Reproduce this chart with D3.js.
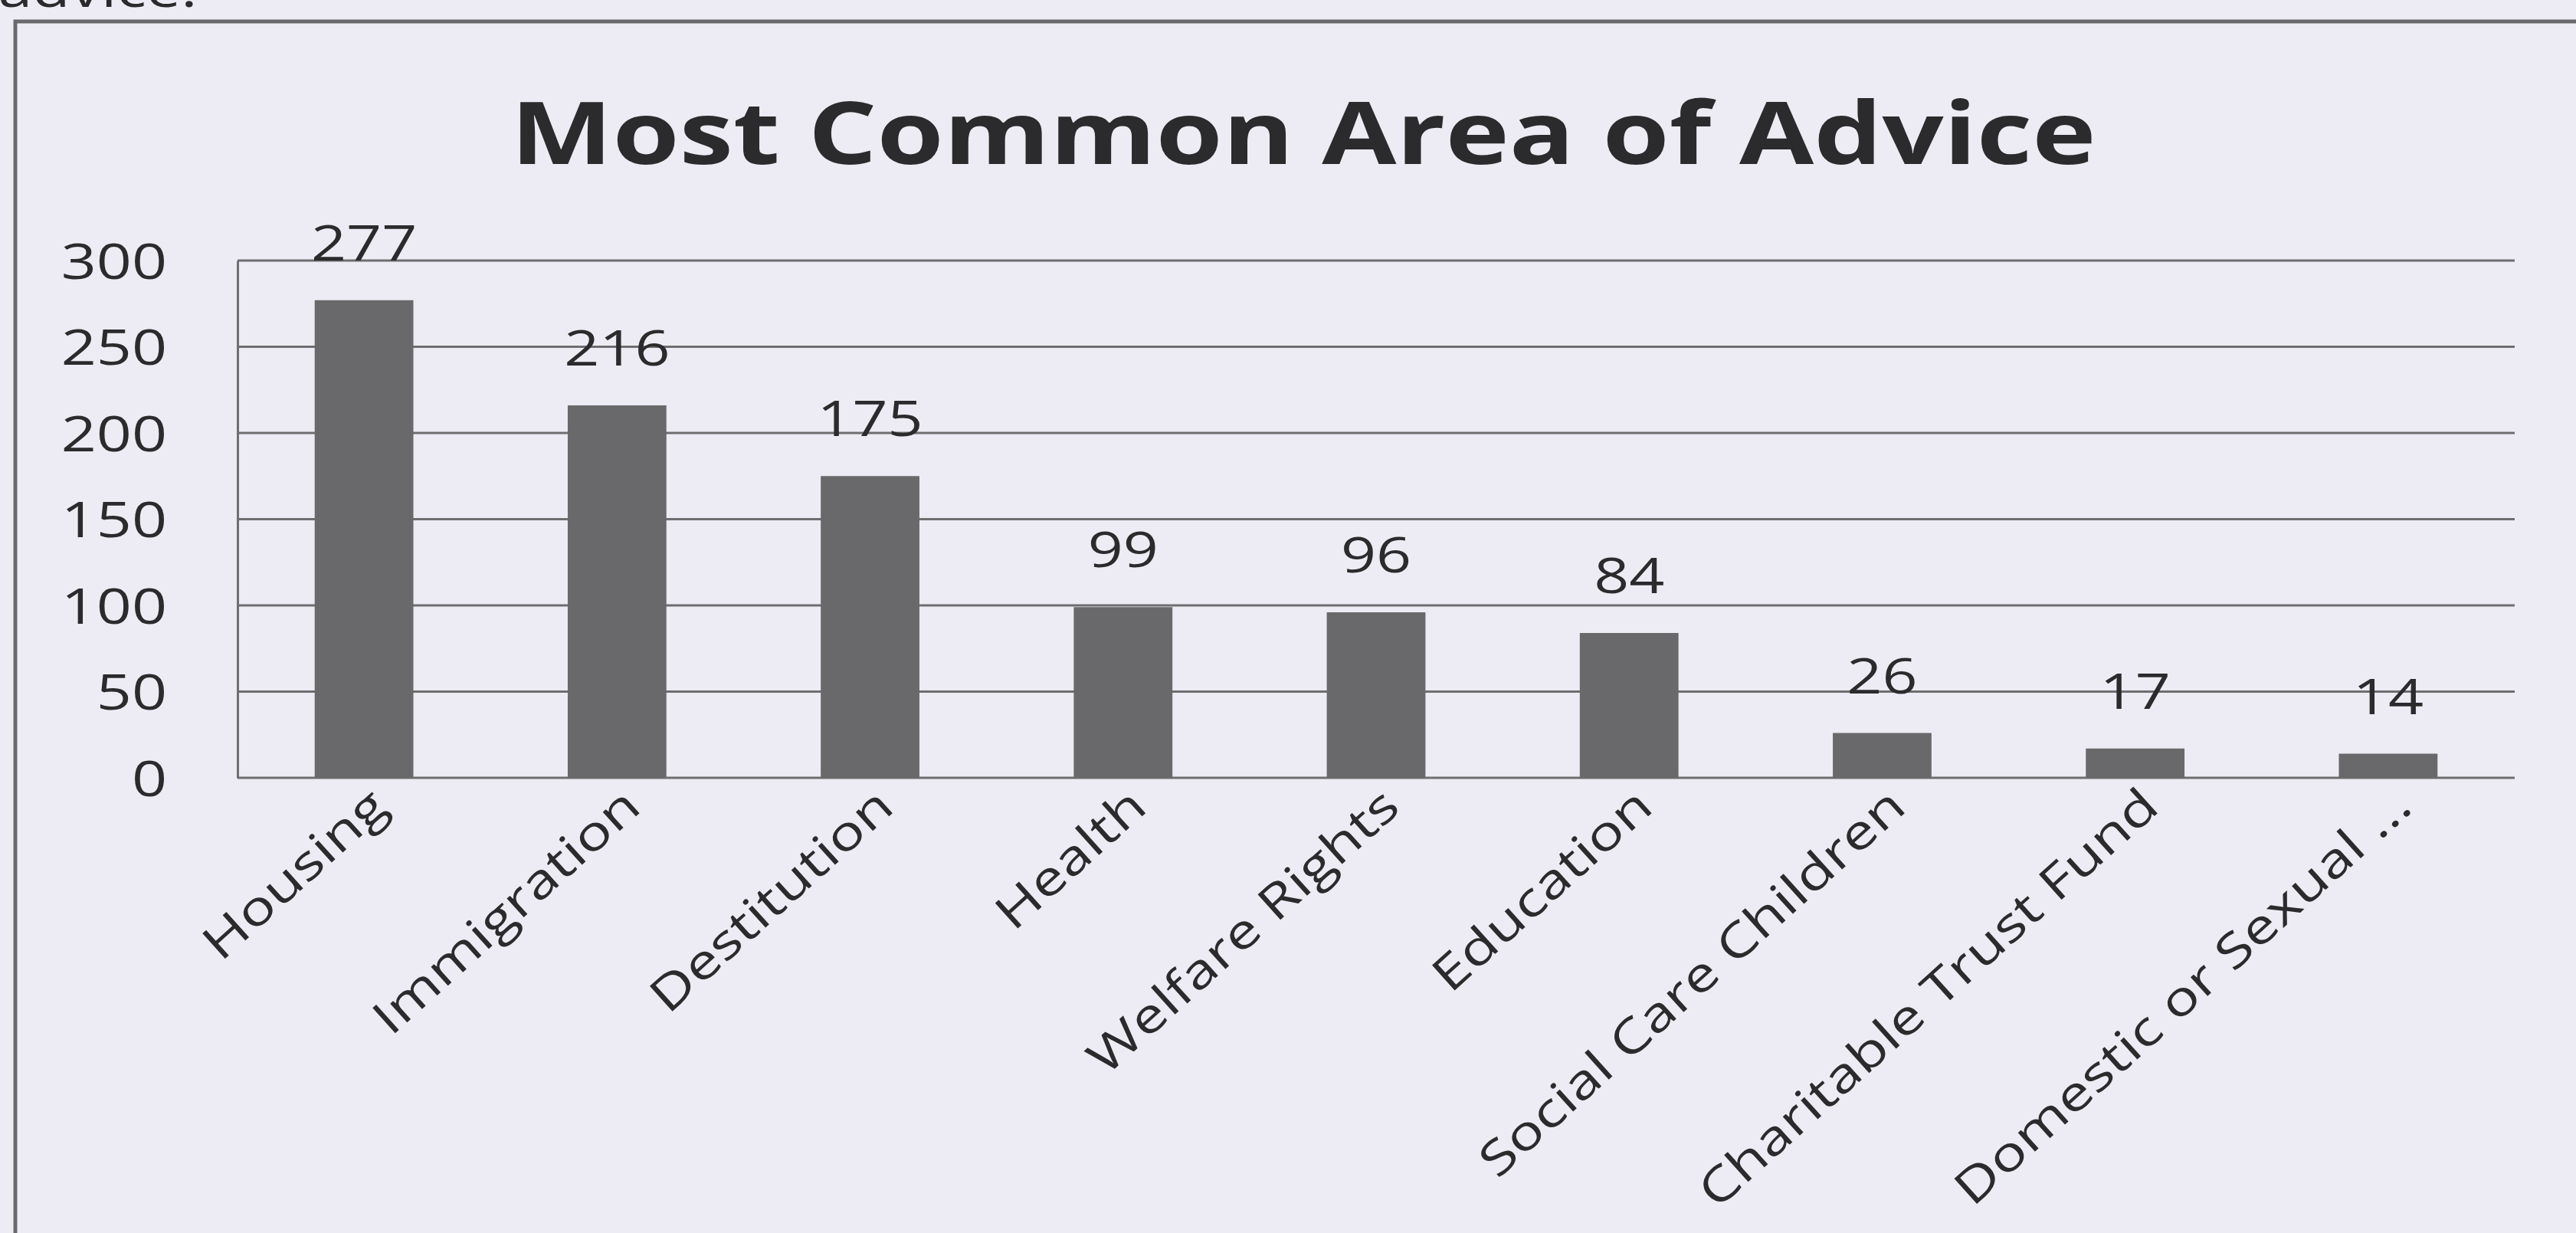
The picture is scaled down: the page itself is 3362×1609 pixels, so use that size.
<!DOCTYPE html>
<html>
<head>
<meta charset="utf-8">
<script src="https://cdn.jsdelivr.net/npm/d3@7"></script>
<style>
  html, body { margin: 0; padding: 0; background: #edecf4; }
  svg { display: block; }
  text { font-family: "Open Sans", "Noto Sans", sans-serif; fill: #2b2b2d; }
</style>
</head>
<body>
<svg id="chart" width="3362" height="1609"></svg>
<script>
// Chart data
const categories = [
  "Housing", "Immigration", "Destitution", "Health", "Welfare Rights",
  "Education", "Social Care Children", "Charitable Trust Fund", "Domestic or Sexual ..."
];
const values = [277, 216, 175, 99, 96, 84, 26, 17, 14];
const yTicks = [0, 50, 100, 150, 200, 250, 300];
const chartTitle = "Most Common Area of Advice";

const W = 3362, H = 1609;
const plot = { left: 310, right: 3282, top: 340, bottom: 1015 };
const textStretch = 1.26;   // wide numerals used for ticks and value labels
const labelStretch = 1.25;  // widening of the slanted category names
const labelAngle = -42;

const svg = d3.select("#chart");

// paper background
svg.append("rect").attr("width", W).attr("height", H).attr("fill", "#edecf4");

// tail of the sentence running above the chart frame
svg.append("text")
  .attr("x", -2).attr("y", 9)
  .attr("font-size", 64)
  .attr("transform", `scale(${textStretch},1)`)
  .text("advice.");

// chart frame
svg.append("rect")
  .attr("x", 20).attr("y", 28)
  .attr("width", 3400).attr("height", 1700)
  .attr("fill", "none")
  .attr("stroke", "#6a6a6c")
  .attr("stroke-width", 5);

const x = d3.scaleBand()
  .domain(categories)
  .range([plot.left, plot.right])
  .paddingInner(0.61)
  .paddingOuter(0.305);

const y = d3.scaleLinear()
  .domain([0, 300])
  .range([plot.bottom, plot.top]);

// horizontal gridlines
svg.append("g")
  .selectAll("line")
  .data(yTicks)
  .join("line")
  .attr("x1", plot.left).attr("x2", plot.right)
  .attr("y1", d => y(d)).attr("y2", d => y(d))
  .attr("stroke", "#6e6e70")
  .attr("stroke-width", 3);

// y axis with stretched numerals
const yAxis = svg.append("g")
  .attr("transform", `translate(${plot.left},0)`)
  .call(d3.axisLeft(y).tickValues(yTicks).tickSize(0).tickPadding(0));
yAxis.select(".domain")
  .attr("stroke", "#6e6e70")
  .attr("stroke-width", 3);
yAxis.selectAll(".tick text")
  .attr("x", 0)
  .attr("dy", "0.36em")
  .attr("font-size", 64)
  .attr("font-family", "'Open Sans', sans-serif")
  .attr("fill", "#2b2b2d")
  .attr("text-anchor", "end")
  .attr("transform", `translate(-92,0) scale(${textStretch},1)`);

// bars
svg.append("g")
  .selectAll("rect")
  .data(values)
  .join("rect")
  .attr("x", (d, i) => x(categories[i]))
  .attr("y", d => y(d))
  .attr("width", x.bandwidth())
  .attr("height", d => y(0) - y(d))
  .attr("fill", "#69696b");

// value labels above bars
svg.append("g")
  .selectAll("text")
  .data(values)
  .join("text")
  .attr("text-anchor", "middle")
  .attr("font-size", 64)
  .attr("transform", (d, i) =>
    `translate(${x(categories[i]) + x.bandwidth() / 2},${y(d) - 52}) scale(${textStretch},1)`)
  .text(d => d);

// rotated category labels
svg.append("g")
  .selectAll("text")
  .data(categories)
  .join("text")
  .attr("text-anchor", "end")
  .attr("font-size", 62)
  .attr("transform", d =>
    `translate(${x(d) + x.bandwidth() / 2 + 34},${plot.bottom + 42}) rotate(${labelAngle}) scale(${labelStretch},1)`)
  .text(d => d);

// title, widened to its measured span
const title = svg.append("text")
  .attr("text-anchor", "middle")
  .attr("font-size", 113)
  .attr("font-weight", 700)
  .attr("fill", "#2a2a2c")
  .text(chartTitle);
const tw = title.node().getComputedTextLength();
const titleStretch = 2069 / tw;
title.attr("transform", `translate(1701,214) scale(${titleStretch},1)`);
</script>
</body>
</html>
